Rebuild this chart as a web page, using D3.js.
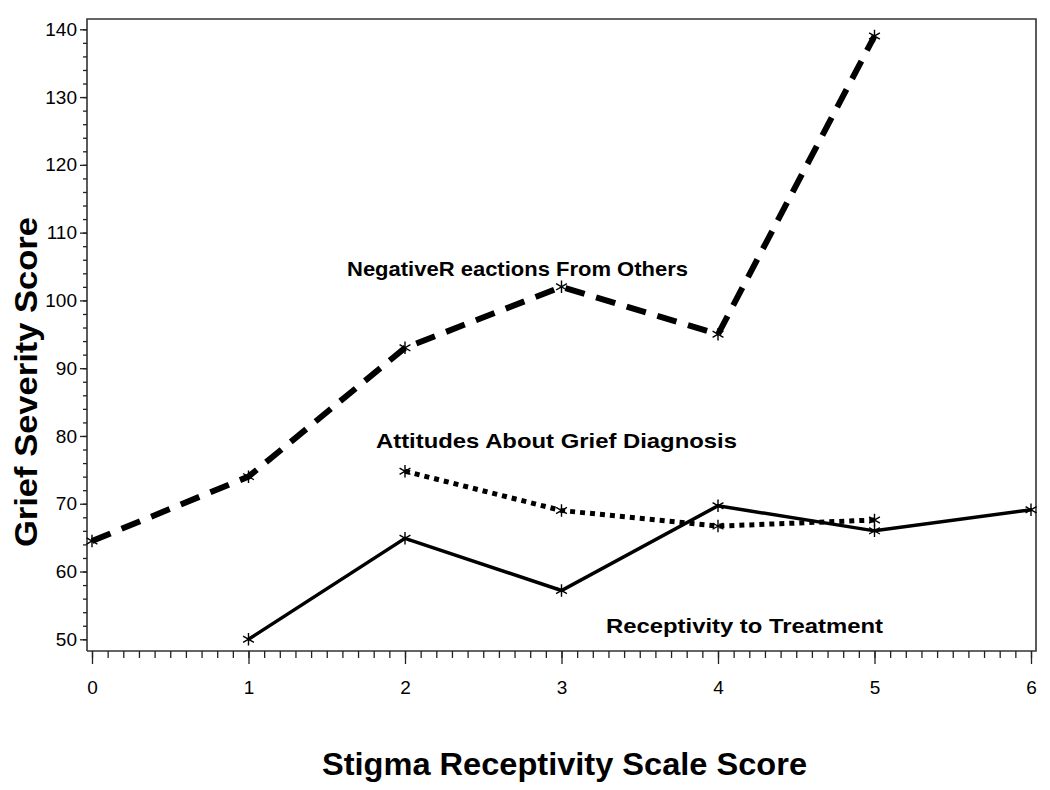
<!DOCTYPE html>
<html>
<head>
<meta charset="utf-8">
<script src="https://cdn.jsdelivr.net/npm/d3@7"></script>
<style>
  body { margin: 0; background: #fff; }
  svg text { font-family: "Liberation Sans", Arial, sans-serif; fill: #000; }
  .axis path { stroke: #333; stroke-width: 1.5; }
  .axis line { stroke: #222; stroke-width: 1.3; }
</style>
</head>
<body>
<svg id="chart" width="1050" height="790"></svg>
<script>
// Stigma receptivity score on x, grief severity on y
var negX = [0, 1, 2, 3, 4, 5];
var negY = [64.5, 74, 93, 102, 95, 139];
var attX = [2, 3, 4, 5];
var attY = [74.8, 69, 66.7, 67.6];
var recX = [1, 2, 3, 4, 5, 6];
var recY = [50, 64.9, 57.2, 69.7, 66, 69.1];
var xTicks = [0, 1, 2, 3, 4, 5, 6];
var yTicks = [50, 60, 70, 80, 90, 100, 110, 120, 130, 140];

var svg = d3.select("#chart");
var plotLeft = 87, plotRight = 1036, plotTop = 19, plotBottom = 651;

var x = d3.scaleLinear().domain([0, 6]).range([92, 1031]);
var y = d3.scaleLinear().domain([50, 140]).range([639.3, 29.3]);

// frame
svg.append("path")
    .attr("d", "M" + plotLeft + "," + plotBottom + "V" + plotTop + "H" + plotRight + "V" + plotBottom + "H" + plotLeft)
    .attr("fill", "none")
    .attr("stroke", "#333")
    .attr("stroke-width", 1.6);

// x axis: minor ticks every 0.1, major every 1
var xMinor = d3.range(0, 60.5).map(function(i) { return i / 10; });
svg.append("g")
    .attr("class", "axis")
    .attr("transform", "translate(0," + plotBottom + ")")
    .call(d3.axisBottom(x).tickValues(xMinor).tickSize(7).tickFormat("").tickSizeOuter(0))
    .select(".domain").remove();
var gx = svg.append("g")
    .attr("class", "axis")
    .attr("transform", "translate(0," + plotBottom + ")")
    .call(d3.axisBottom(x).tickValues(xTicks).tickSize(13).tickPadding(17).tickFormat(d3.format("d")));
gx.select(".domain").remove();
gx.selectAll("text").style("font-size", "19px");

// y axis: minor ticks every 2, major every 10
svg.append("g")
    .attr("class", "axis")
    .attr("transform", "translate(" + plotLeft + ",0)")
    .call(d3.axisLeft(y).tickValues(d3.range(50, 141, 2)).tickSize(4).tickFormat(""))
    .select(".domain").remove();
var gy = svg.append("g")
    .attr("class", "axis")
    .attr("transform", "translate(" + plotLeft + ",0)")
    .call(d3.axisLeft(y).tickValues(yTicks).tickSize(7).tickPadding(3).tickFormat(d3.format("d")));
gy.select(".domain").remove();
gy.selectAll("text").style("font-size", "19px");

// series
var line = d3.line()
    .x(function(d) { return x(d[0]); })
    .y(function(d) { return y(d[1]); });

function drawSeries(xs, ys, width, dash) {
    var pts = d3.zip(xs, ys);
    svg.append("path")
        .datum(pts)
        .attr("d", line)
        .attr("fill", "none")
        .attr("stroke", "#000")
        .attr("stroke-width", width)
        .attr("stroke-dasharray", dash);
    svg.selectAll(null)
        .data(pts)
        .enter().append("path")
        .attr("transform", function(d) { return "translate(" + x(d[0]) + "," + y(d[1]) + ")"; })
        .attr("d", d3.symbol(d3.symbolAsterisk, 110))
        .attr("fill", "none")
        .attr("stroke", "#000")
        .attr("stroke-width", 1.4);
}

drawSeries(recX, recY, 3.5, null);
drawSeries(attX, attY, 5, "5,5");
drawSeries(negX, negY, 6, "20,12");

// series labels
function label(txt, lx, ly, len) {
    svg.append("text")
        .attr("x", lx)
        .attr("y", ly)
        .attr("textLength", len)
        .attr("lengthAdjust", "spacingAndGlyphs")
        .style("font-size", "21px")
        .style("font-weight", "bold")
        .text(txt);
}
label("NegativeR eactions From Others", 347, 276, 341);
label("Attitudes About Grief Diagnosis", 376, 448, 361);
label("Receptivity to Treatment", 606, 633, 277);

// axis titles
svg.append("text")
    .attr("x", 322)
    .attr("y", 775)
    .attr("textLength", 485)
    .attr("lengthAdjust", "spacingAndGlyphs")
    .style("font-size", "31px")
    .style("font-weight", "bold")
    .text("Stigma Receptivity Scale Score");

svg.append("text")
    .attr("transform", "translate(37,547) rotate(-90)")
    .attr("textLength", 330)
    .attr("lengthAdjust", "spacingAndGlyphs")
    .style("font-size", "31px")
    .style("font-weight", "bold")
    .text("Grief Severity Score");
</script>
</body>
</html>
